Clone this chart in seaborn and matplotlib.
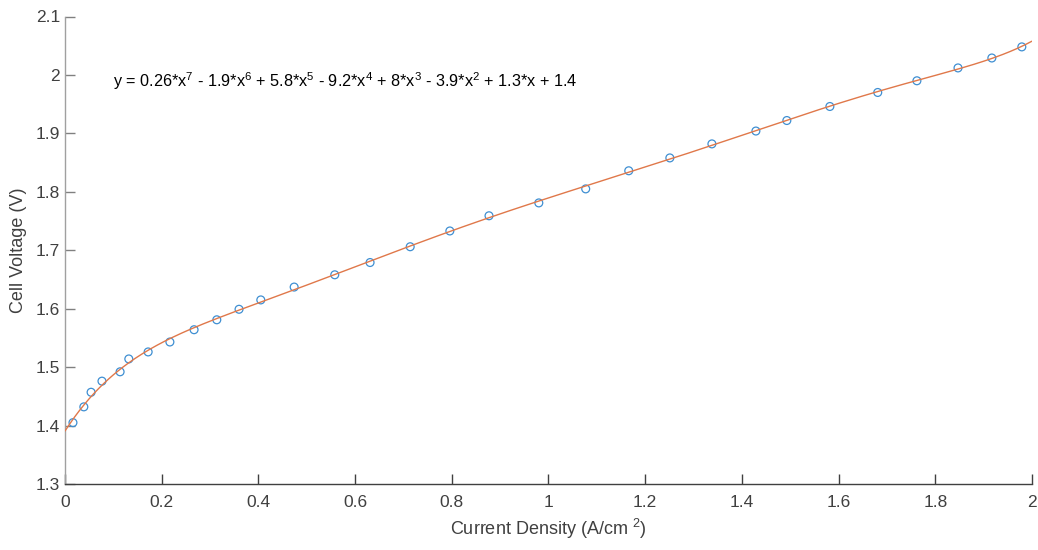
import numpy as np
import pandas as pd
import matplotlib
matplotlib.use("Agg")
import matplotlib.pyplot as plt
import seaborn as sns

current_density = [0.0165, 0.039, 0.054, 0.0765, 0.114, 0.132, 0.172, 0.217, 0.267, 0.314,
                   0.360, 0.405, 0.474, 0.558, 0.631, 0.714, 0.796, 0.877, 0.980, 1.077,
                   1.166, 1.251, 1.338, 1.429, 1.493, 1.582, 1.681, 1.762, 1.847, 1.917, 1.979]
cell_voltage = [1.405, 1.432, 1.457, 1.476, 1.492, 1.514, 1.526, 1.543, 1.564, 1.581,
                1.599, 1.615, 1.637, 1.658, 1.679, 1.706, 1.733, 1.759, 1.781, 1.805,
                1.836, 1.858, 1.882, 1.904, 1.922, 1.946, 1.970, 1.990, 2.012, 2.029, 2.048]
x_ticks = [0, 0.2, 0.4, 0.6, 0.8, 1, 1.2, 1.4, 1.6, 1.8, 2]
y_ticks = [1.3, 1.4, 1.5, 1.6, 1.7, 1.8, 1.9, 2, 2.1]
equation = ("y = 0.26*x$^{7}$ - 1.9*x$^{6}$ + 5.8*x$^{5}$ - 9.2*x$^{4}$ + 8*x$^{3}$"
            " - 3.9*x$^{2}$ + 1.3*x + 1.4")

sns.set_style("white")
plt.rcParams['font.family'] = ['Liberation Sans', 'DejaVu Sans']
plt.rcParams['mathtext.fontset'] = 'custom'
plt.rcParams['mathtext.rm'] = 'Liberation Sans'
plt.rcParams['mathtext.it'] = 'Liberation Sans'
plt.rcParams['mathtext.default'] = 'regular'

df = pd.DataFrame({"x": current_density, "y": cell_voltage})

# 7th-degree polynomial fit of the data
coef = np.polyfit(df["x"], df["y"], 7)
xf = np.linspace(0, 2, 400)
fit = pd.DataFrame({"x": xf, "y": np.polyval(coef, xf)})

fig = plt.figure(figsize=(10.38, 5.5), dpi=100)
ax = fig.add_axes([0.0626, 0.12, 0.9316, 0.85])

sns.scatterplot(data=df, x="x", y="y", ax=ax, marker="o", s=32,
                facecolor="none", edgecolor="#3f8fd2", linewidth=0.9, zorder=2)
sns.lineplot(data=fit, x="x", y="y", ax=ax, color="#e0784a", linewidth=1.0,
             zorder=3)

ax.set_xlim(0, 2)
ax.set_ylim(1.3, 2.1)
ax.set_xticks(x_ticks)
ax.set_yticks(y_ticks)
ax.set_xticklabels([f"{t:g}" for t in x_ticks])
ax.set_yticklabels([f"{t:g}" for t in y_ticks])

for s in ["top", "right"]:
    ax.spines[s].set_visible(False)
ax.spines["left"].set_color("#a0a0a0")
ax.spines["bottom"].set_color("#404040")
ax.spines["left"].set_linewidth(1.0)
ax.spines["bottom"].set_linewidth(1.0)
ax.tick_params(axis="both", which="major", direction="in", length=7, width=1.0,
               labelsize=12.5, labelcolor="#404040", left=True, bottom=True)
ax.tick_params(axis="y", colors="#808080", labelcolor="#404040")
ax.tick_params(axis="x", colors="#404040", pad=8)

ax.set_xlabel("Current Density (A/cm $^{2}$)", fontsize=13, color="#404040", labelpad=5)
ax.set_ylabel("Cell Voltage (V)", fontsize=13, color="#404040", labelpad=6)

ax.text(0.1, 1.99, equation, fontsize=11.7, color="black", va="center", ha="left")

fig.savefig("out.png", dpi=100)
